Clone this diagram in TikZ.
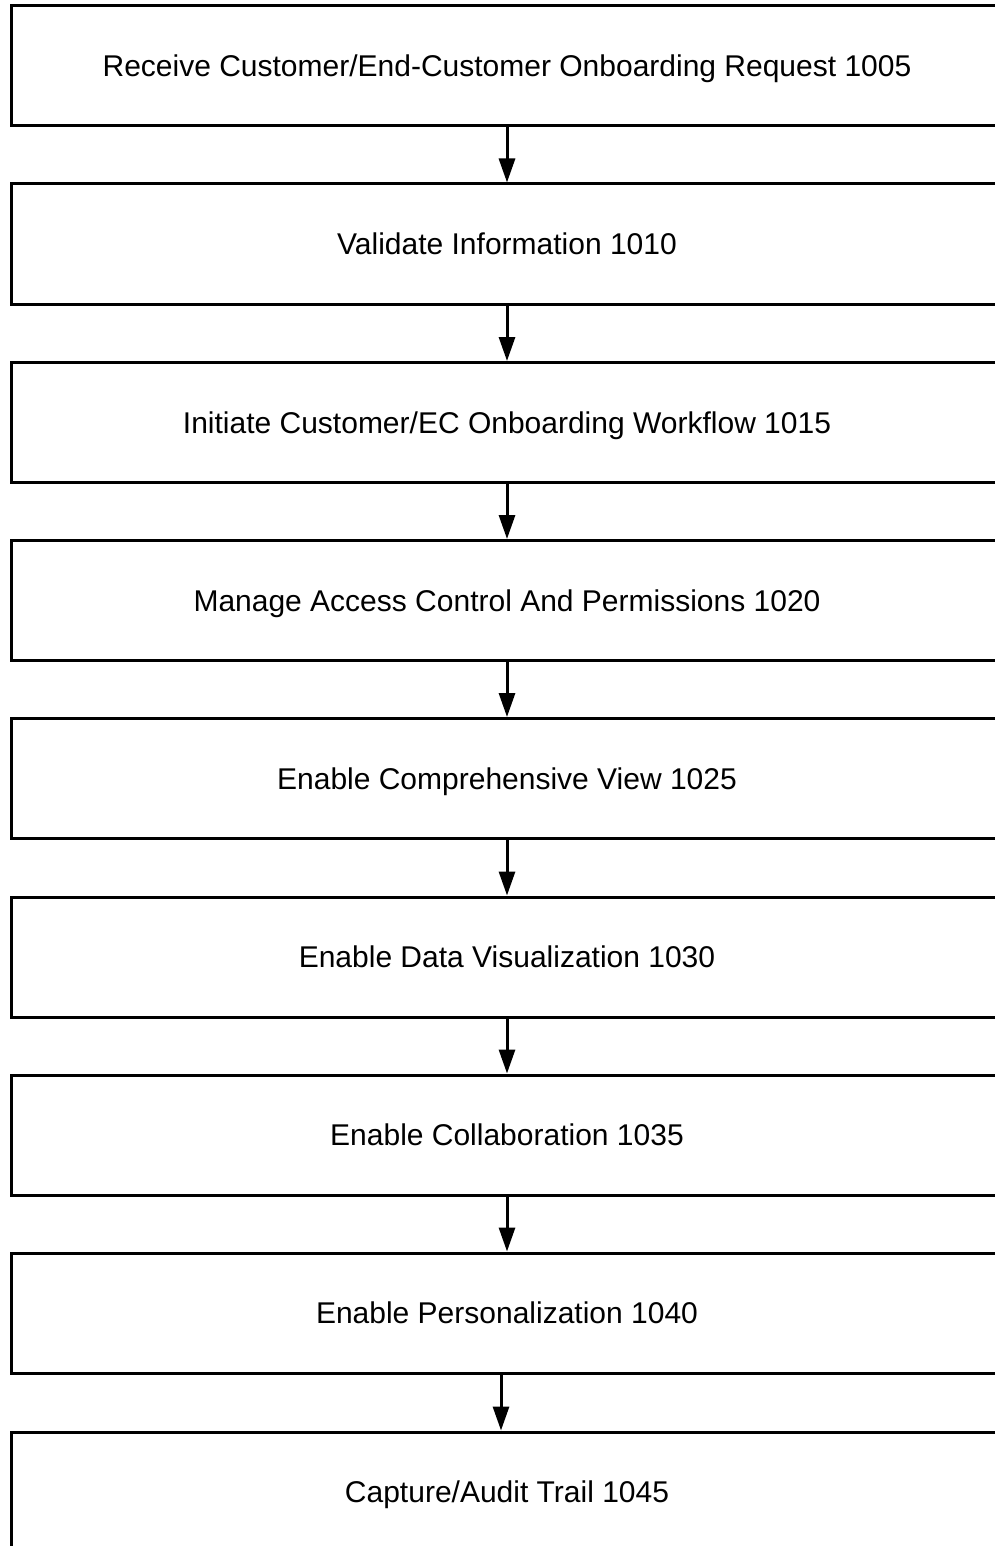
\documentclass[tikz,border=0pt]{standalone}
\usepackage{fontspec}
\setmainfont{Liberation Sans}
\usetikzlibrary{arrows.meta}

\begin{document}
\begin{tikzpicture}[x=1pt,y=-1pt,>={Triangle[length=24pt,width=16pt]},line width=3pt,
  stepbox/.style={draw,rectangle,minimum width=992pt,minimum height=120pt,inner sep=0pt,text depth=0pt,font=\fontsize{30}{36}\selectfont}]
\clip (0,0) rectangle (995,1546);
\node[stepbox] (s1) at (507,66) {Receive Customer/End-Customer Onboarding Request 1005};
\node[stepbox] (s2) at (507,244) {Validate Information 1010};
\node[stepbox] (s3) at (507,422.5) {Initiate Customer/EC Onboarding Workflow 1015};
\node[stepbox] (s4) at (507,600.5) {Manage Access Control And Permissions 1020};
\node[stepbox] (s5) at (507,778.5) {Enable Comprehensive View 1025};
\node[stepbox] (s6) at (507,957) {Enable Data Visualization 1030};
\node[stepbox] (s7) at (507,1135) {Enable Collaboration 1035};
\node[stepbox] (s8) at (507,1313) {Enable Personalization 1040};
\node[stepbox] (s9) at (507,1492) {Capture/Audit Trail 1045};
\draw[->] (s1) -- (s2);
\draw[->] (s2) -- (s3);
\draw[->] (s3) -- (s4);
\draw[->] (s4) -- (s5);
\draw[->] (s5) -- (s6);
\draw[->] (s6) -- (s7);
\draw[->] (s7) -- (s8);
\draw[->] ([xshift=-6pt]s8.south) -- ([xshift=-6pt]s9.north);
\end{tikzpicture}
\end{document}
